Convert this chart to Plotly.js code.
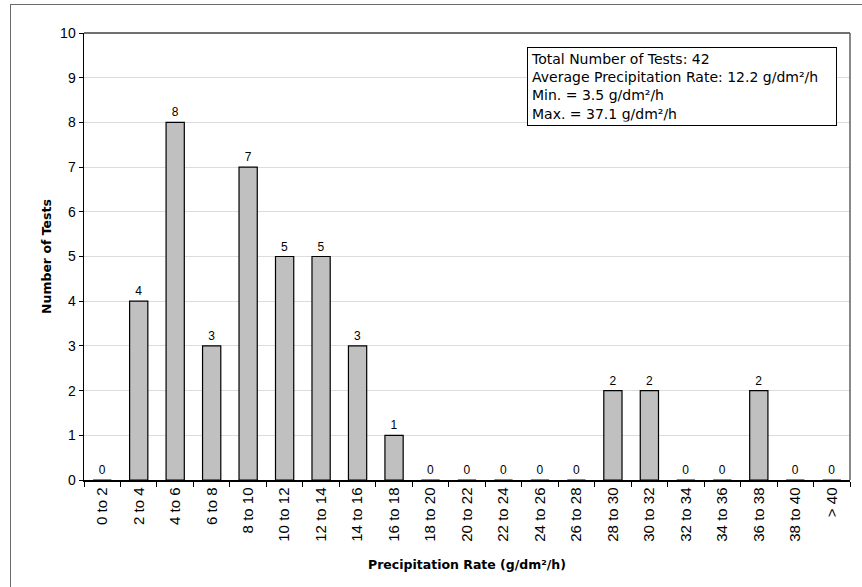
<!DOCTYPE html>
<html>
<head>
<meta charset="utf-8">
<script src="https://cdn.plot.ly/plotly-3.0.1.min.js"></script>
<style>
html,body{margin:0;padding:0;background:#fff;overflow:hidden;}
#chart{width:862px;height:587px;position:relative;}
#frame{position:absolute;left:10px;top:4px;width:900px;height:700px;border:1.5px solid #6a6a6a;pointer-events:none;}
</style>
</head>
<body>
<div id="chart"></div>
<div id="frame"></div>
<script>
var categories = ["0 to 2","2 to 4","4 to 6","6 to 8","8 to 10","10 to 12","12 to 14","14 to 16","16 to 18","18 to 20","20 to 22","22 to 24","24 to 26","26 to 28","28 to 30","30 to 32","32 to 34","34 to 36","36 to 38","38 to 40","> 40"];
var counts = [0,4,8,3,7,5,5,3,1,0,0,0,0,0,2,2,0,0,2,0,0];
var yTicks = [0,1,2,3,4,5,6,7,8,9,10];
var statsLines = ["Total Number of Tests: 42","Average Precipitation Rate: 12.2 g/dm²/h","Min. = 3.5 g/dm²/h","Max. = 37.1 g/dm²/h"];

var sans = "Liberation Sans, Arial, Helvetica, sans-serif";
var wide = "DejaVu Sans, Verdana, sans-serif";

var trace = {
  type: "bar",
  x: categories,
  y: counts,
  marker: {color: "#c0c0c0", line: {color: "#000", width: 1.2}},
  text: counts.map(String),
  textposition: "outside",
  textfont: {family: sans, size: 12, color: "#000000"},
  cliponaxis: false,
  hoverinfo: "x+y"
};

var layout = {
  width: 862, height: 587,
  margin: {l: 84, r: 12, t: 33, b: 107},
  paper_bgcolor: "#fff", plot_bgcolor: "#fff",
  bargap: 0.5,
  showlegend: false,
  font: {family: sans, color: "#000"},
  xaxis: {
    type: "category",
    tickangle: -90,
    tickson: "boundaries",
    ticks: "outside", ticklen: 5, tickcolor: "#000",
    showline: true, linecolor: "#000", linewidth: 1.5,
    showgrid: false,
    tickfont: {family: sans, size: 15, color: "#000"},
    title: {text: "Precipitation Rate (g/dm²/h)", font: {family: wide, size: 12.5, color: "#000", weight: "bold"}, standoff: 19},
    automargin: false
  },
  yaxis: {
    range: [0, 10],
    tickvals: yTicks,
    ticks: "outside", ticklen: 4, tickcolor: "#000",
    showline: true, linecolor: "#000", linewidth: 1.5,
    showgrid: true, gridcolor: "#dcdcdc", gridwidth: 1,
    zeroline: false,
    tickfont: {family: sans, size: 14, color: "#000"},
    title: {text: "Number of Tests", font: {family: wide, size: 12.5, color: "#000", weight: "bold"}, standoff: 5},
    automargin: false
  },
  shapes: [
    {type: "line", xref: "paper", yref: "paper", x0: 0, x1: 1, y0: 1, y1: 1, line: {color: "#404040", width: 1.5}},
    {type: "line", xref: "paper", yref: "paper", x0: 1, x1: 1, y0: 0, y1: 1, line: {color: "#606060", width: 1.5}}
  ],
  annotations: [{
    xref: "paper", yref: "paper",
    x: 0.578, y: 0.969, xanchor: "left", yanchor: "top",
    text: statsLines.join("<br>"),
    width: 302,
    align: "left", showarrow: false,
    font: {family: wide, size: 14, color: "#000"},
    bgcolor: "#fff", bordercolor: "#000", borderwidth: 1, borderpad: 3
  }]
};

Plotly.newPlot("chart", [trace], layout, {displayModeBar: false, staticPlot: true});
</script>
</body>
</html>
